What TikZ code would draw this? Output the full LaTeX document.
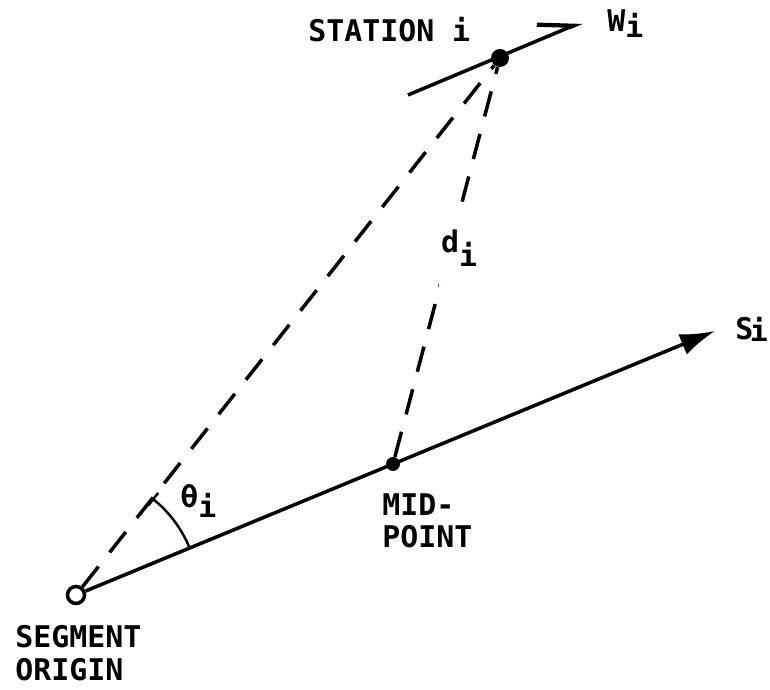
\documentclass[tikz,border=0pt]{standalone}
\usepackage{fontspec}
\setmainfont{DejaVu Sans Mono}
\usetikzlibrary{arrows.meta}
\newcommand{\subi}[1][-0.5ex]{\raisebox{#1}{i}}
\tikzset{
  lbl/.style={inner sep=0pt, font=\bfseries\fontsize{17}{18.5}\selectfont},
  lblt/.style={lbl, anchor=base west},
  lblb/.style={lbl, anchor=north west, align=left},
  seg/.style={line width=2pt},
  dashln/.style={seg, dash pattern=on 0.52cm off 0.36cm},
  dotpt/.style={circle, fill=black, inner sep=0pt},
  orig/.style={circle, draw, line width=2pt, inner sep=0pt, minimum size=0.34cm},
  sarrow/.style={seg, -{Latex[length=0.7cm, width=0.44cm]}},
  warrow/.style={seg, -{Straight Barb[left, length=0.66cm, width=0.6cm, line width=2.4pt]}},
  angarc/.style={line width=1.4pt, {Bar[width=0.32cm]}-},
}

\begin{document}
\begin{tikzpicture}
  \useasboundingbox (0,0) rectangle (15.4,13.8);
  % --- points ---
  \node[orig] (o) at (1.52,1.90) {};
  \node[dotpt, minimum size=0.28cm] (mid) at (7.86,4.52) {};
  \node[dotpt, minimum size=0.36cm] (st) at (10.00,12.64) {};
  \coordinate (stip) at (14.30,7.18);
  \coordinate (wa) at (8.16,11.90);
  \coordinate (wb) at (11.64,13.36);
  % --- segment and station track ---
  \draw[sarrow] (o) -- (stip);
  \draw[warrow] (wa) -- (wb);
  % --- dashed legs ---
  \draw[dashln] (o) -- (st);
  \draw[dashln] (mid) -- (st);
  % --- angle ---
  \draw[angarc] (o.center) ++(51.7:2.46) arc[start angle=51.7, end angle=22.4, radius=2.46];
  % --- labels ---
  \node[lblt] (stlbl) at (6.16,12.96) {STATION i};
  \node[lblt] (wlbl) at (12.14,13.16) {W\subi[-0.35ex]};
  \node[lblt, fill=white, inner xsep=1pt, inner ysep=0.42cm] (dlbl) at (8.78,8.74) {d\subi[-0.8ex]};
  \node[lblt] (slbl) at (14.70,7.00) {S\kern-2pt\subi[-0.1ex]};
  \node[lblt] (tlbl) at (3.60,3.64) {θ\subi[-0.6ex]};
  \node[lblb] (mlbl) at (7.64,3.94) {MID-\\POINT};
  \node[lblb] (olbl) at (0.30,1.30) {SEGMENT\\ORIGIN};
\end{tikzpicture}
\end{document}
